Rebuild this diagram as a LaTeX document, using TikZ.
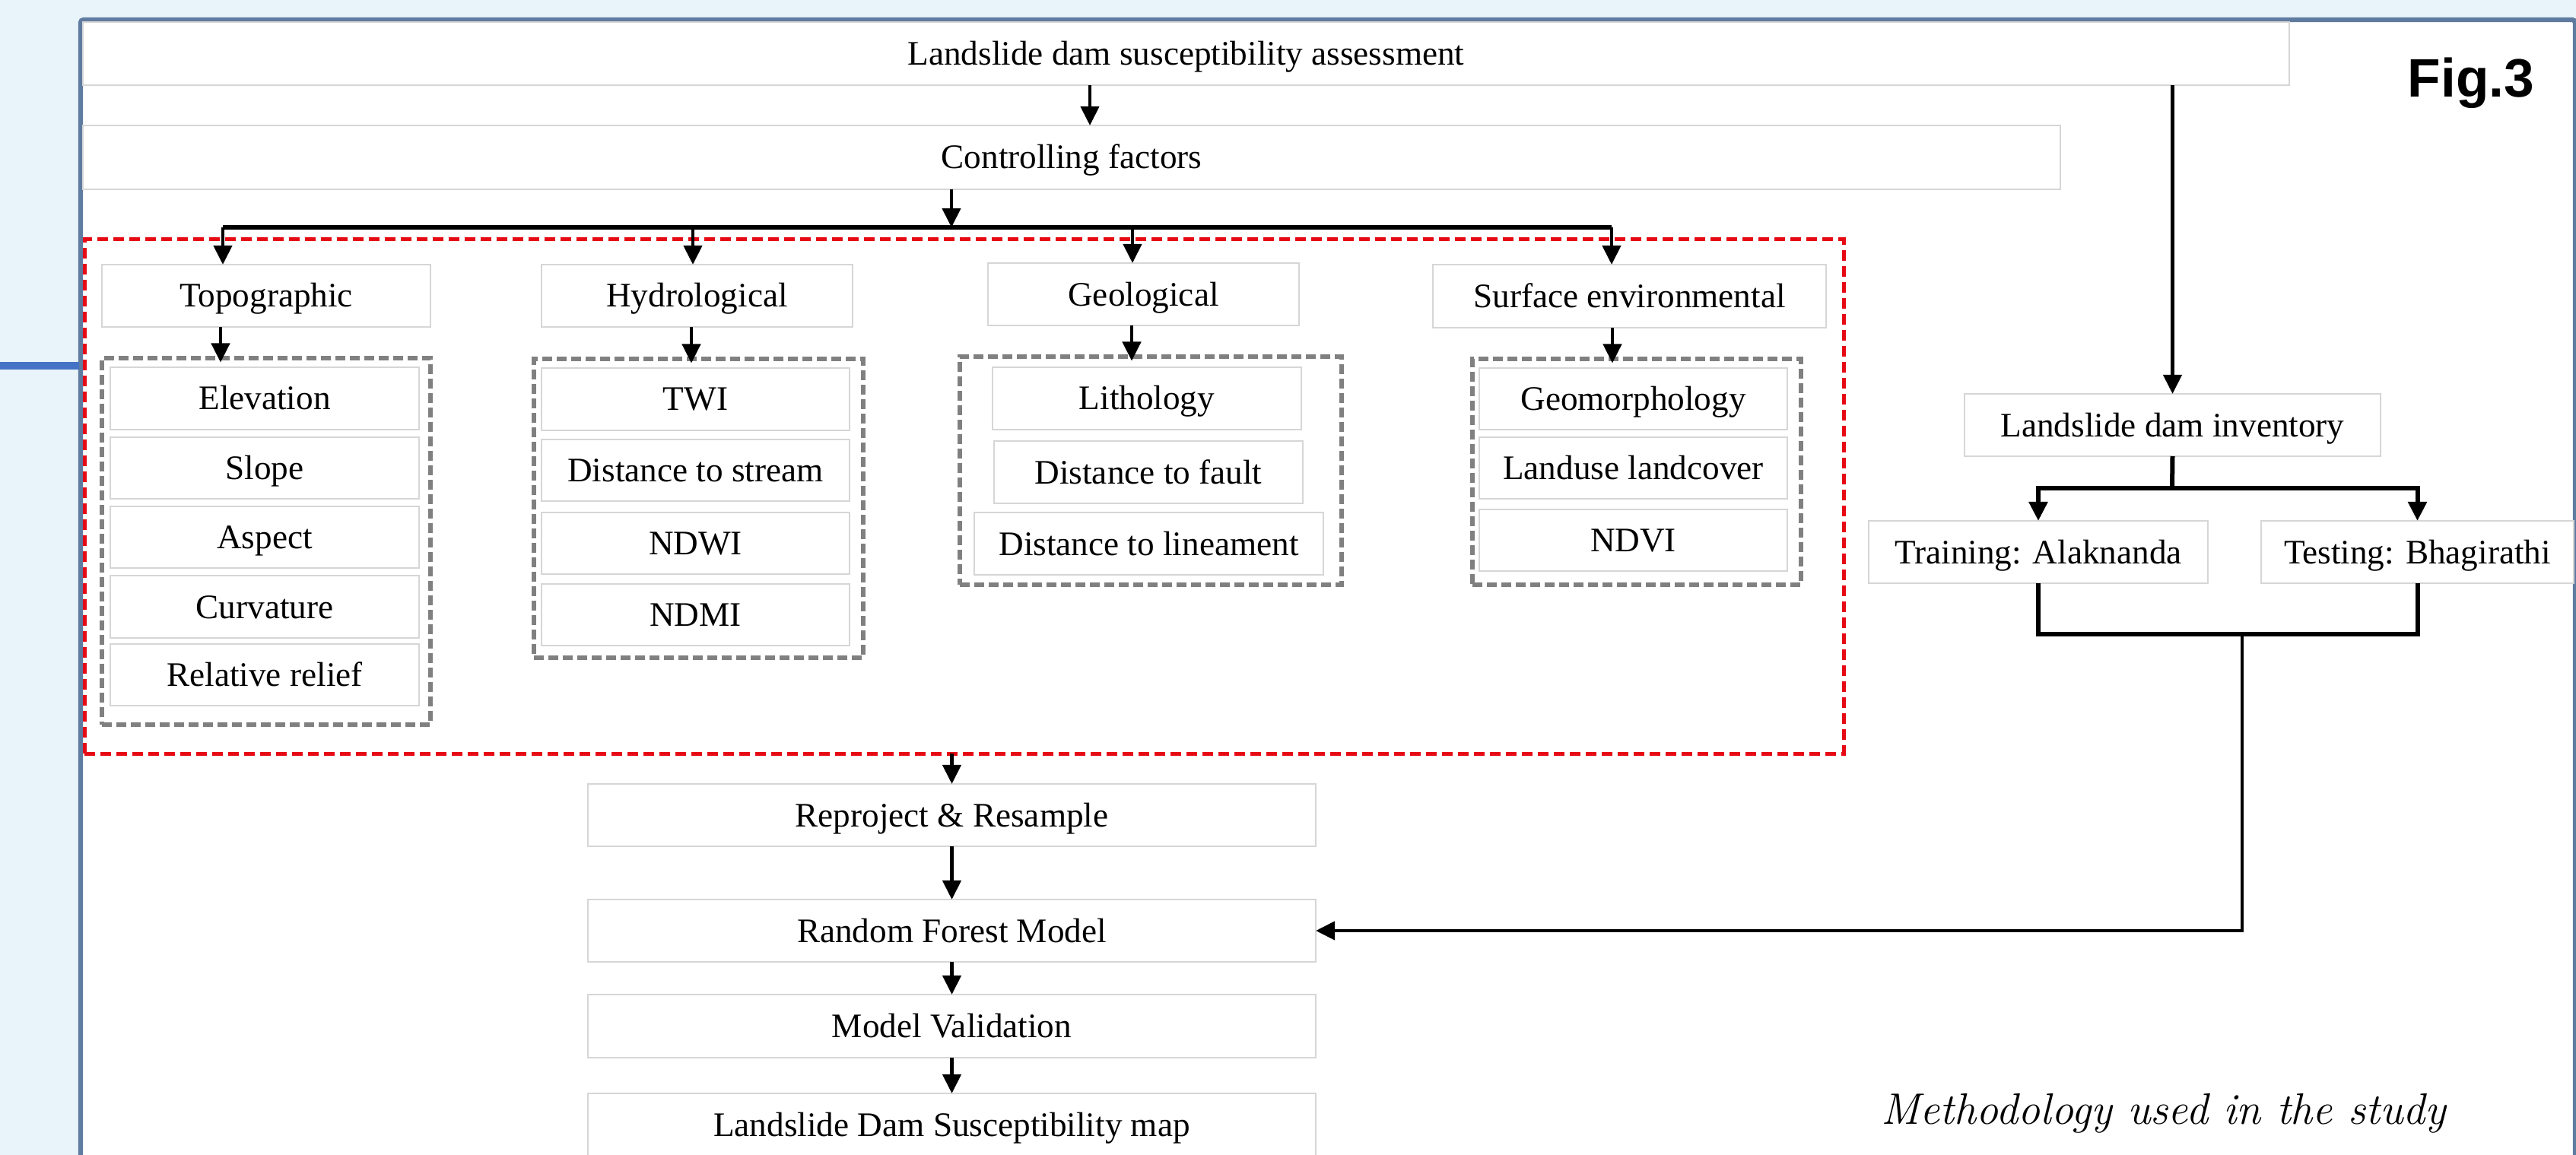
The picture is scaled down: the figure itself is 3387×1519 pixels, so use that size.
\documentclass[tikz,border=0pt]{standalone}
\usepackage{fontspec}
\newfontfamily\tnr{Liberation Serif}
\newfontfamily\lsans{Liberation Sans}
\usetikzlibrary{arrows.meta,calc}
\definecolor{bgblue}{RGB}{232,243,250}
\definecolor{framec}{RGB}{96,123,160}
\definecolor{boxc}{RGB}{214,214,214}
\definecolor{redd}{RGB}{230,10,20}
\definecolor{grayd}{RGB}{128,128,128}
\definecolor{lineblue}{RGB}{68,114,196}
\tikzset{
  box/.style={draw=boxc, line width=0.6pt, fill=white, inner sep=0pt, outer sep=0pt,
    font=\tnr\fontsize{11.3}{13}\selectfont, text height=10.2pt, text depth=2.7pt, align=center},
  grp/.style={draw=grayd, line width=1.35pt, dash pattern=on 3.25pt off 1.5pt, inner sep=0pt, outer sep=0pt},
  redgrp/.style={draw=redd, line width=1.25pt, dash pattern=on 3.5pt off 1.75pt, inner sep=0pt, outer sep=0pt},
  arr/.style={line width=1.2pt, -{Triangle[length=6.3pt,width=6pt]}},
  grparr/.style={arr, shorten >=-1.4pt},
  conn/.style={line width=1.5pt},
}
\newcommand\pbox[6][]{\node[box,#1,minimum width={(#4-#2)*0.25pt},minimum height={(#5-#3)*0.25pt}] (#6) at ({(#2+#4)/2},{(#3+#5)/2})}
\begin{document}
\begin{tikzpicture}[x=0.25pt,y=-0.25pt]
\fill[bgblue] (0,0) rectangle (3387,1519);
\useasboundingbox (0,0) rectangle (3387,1519);
\clip (0,0) rectangle (3387,1519);
% frame
\draw[framec, line width=1.6pt, fill=white, rounded corners=1pt] (106,26) rectangle (3386,1620);
\coordinate (bl1) at (0,481);
\coordinate (bl2) at (104,481);
\draw[lineblue, line width=2.3pt] (bl1) -- (bl2);
% dashed groups
\pbox[redgrp,fill=none]{111}{315}{2424}{991}{factors} {};
\pbox[grp,fill=none]{134}{471}{566}{953}{gtopo} {};
\pbox[grp,fill=none]{702}{472}{1135}{865}{ghydro} {};
\pbox[grp,fill=none]{1262}{469}{1764}{769}{ggeo} {};
\pbox[grp,fill=none]{1936}{472}{2368}{769}{gsurf} {};
% main boxes
\pbox{109}{29}{3010}{112}{top} {Landslide dam susceptibility assessment};
\pbox{109}{165}{2709}{249}{ctrl} {Controlling factors};
\pbox{134}{348}{566}{430}{topo} {Topographic};
\pbox{712}{348}{1121}{430}{hydro} {Hydrological};
\pbox{1299}{346}{1708}{428}{geo} {Geological};
\pbox{1884}{348}{2401}{431}{surf} {Surface environmental};
% topographic items
\pbox{145}{483}{551}{565}{elev} {Elevation};
\pbox{145}{575}{551}{656}{slope} {Slope};
\pbox{145}{666}{551}{747}{aspect} {Aspect};
\pbox{145}{757}{551}{839}{curv} {Curvature};
\pbox{145}{847}{551}{928}{relief} {Relative relief};
% hydrological items
\pbox{712}{484}{1117}{566}{twi} {TWI};
\pbox{712}{578}{1117}{659}{dstream} {Distance to stream};
\pbox{712}{674}{1117}{755}{ndwi} {NDWI};
\pbox{712}{768}{1117}{849}{ndmi} {NDMI};
% geological items
\pbox{1305}{483}{1711}{565}{litho} {Lithology};
\pbox{1307}{580}{1713}{662}{dfault} {Distance to fault};
\pbox{1281}{674}{1740}{756}{dlin} {Distance to lineament};
% surface items
\pbox{1945}{484}{2350}{565}{geomorph} {Geomorphology};
\pbox{1945}{575}{2350}{656}{lulc} {Landuse landcover};
\pbox{1945}{670}{2350}{751}{ndvi} {NDVI};
% right side
\pbox{2583}{518}{3130}{600}{inv} {Landslide dam inventory};
\pbox{2457}{685}{2903}{767}{train} {Training: Alaknanda};
\pbox{2973}{685}{3384}{767}{test} {Testing: Bhagirathi};
% bottom column
\pbox{773}{1031}{1730}{1113}{reproj} {Reproject \& Resample};
\pbox{773}{1183}{1730}{1265}{rf} {Random Forest Model};
\pbox{773}{1308}{1730}{1391}{mv} {Model Validation};
\pbox{773}{1438}{1730}{1521}{map} {Landslide Dam Susceptibility map};
% labels
\node[font=\lsans\bfseries\fontsize{17.8}{20}\selectfont, anchor=base west, inner sep=0pt] (fig) at (3165,128) {Fig.3};
\node[font=\fontsize{14.5}{16}\selectfont\itshape, anchor=base west, inner sep=0pt] (cap) at (2473,1478) {Methodology used in the study};
% coordinates for columns
\coordinate (xa) at (1433,0);
\coordinate (xb) at (1251,0);
\coordinate (bus) at (1251,299);
\coordinate (b1) at (293,299);
\coordinate (b2) at (911,299);
\coordinate (b3) at (1489,299);
\coordinate (b4) at (2119,299);
\coordinate (g1) at (290,0);
\coordinate (g2) at (909,0);
\coordinate (g3) at (1488,0);
\coordinate (g4) at (2120,0);
% top connectors
\draw[arr] (top.south -| xa) -- (ctrl.north -| xa);
\draw[arr] (ctrl.south -| xb) -- (bus);
\draw[line width=1.5pt] (b1) -- (b4);
\draw[arr] (b1) -- (topo.north -| b1);
\draw[arr] (b2) -- (hydro.north -| b2);
\draw[arr] (b3) -- (geo.north -| b3);
\draw[arr] (b4) -- (surf.north -| b4);
\draw[grparr] (topo.south -| g1) -- (gtopo.north -| g1);
\draw[grparr] (hydro.south -| g2) -- (ghydro.north -| g2);
\draw[grparr] (geo.south -| g3) -- (ggeo.north -| g3);
\draw[grparr] (surf.south -| g4) -- (gsurf.north -| g4);
% right connectors
\draw[arr] (top.south -| inv.north) -- (inv.north);
\coordinate (sp) at (2856,642);
\draw[conn] (inv.south) -- (sp);
\draw[arr, conn, line join=miter] (sp) -| (train.north);
\draw[arr, conn, line join=miter] (sp) -| (test.north);
\coordinate (mg) at (2948,834);
\draw[conn] (train.south) |- (mg);
\draw[conn] (test.south) |- (mg);
\draw[arr] (mg) |- (rf.east);
% bottom column
\draw[arr] (factors.south -| reproj.north) -- (reproj.north);
\draw[arr] (reproj.south) -- (rf.north);
\draw[arr] (rf.south) -- (mv.north);
\draw[arr] (mv.south) -- (map.north);
\end{tikzpicture}
\end{document}
